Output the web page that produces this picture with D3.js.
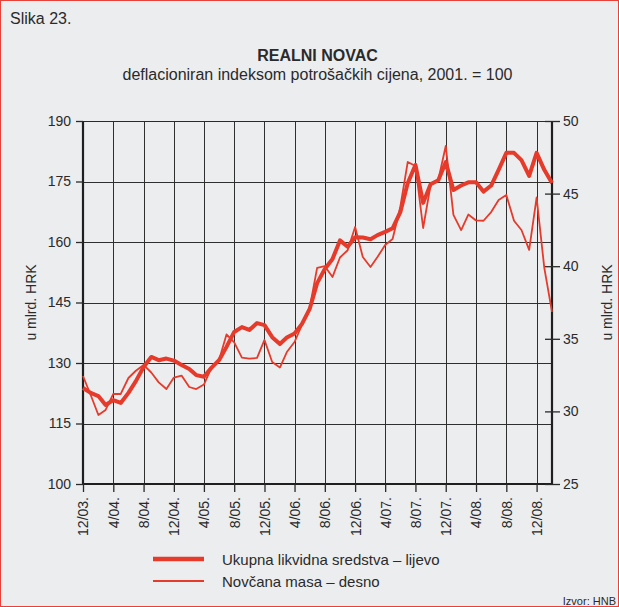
<!DOCTYPE html>
<html>
<head>
<meta charset="utf-8">
<script src="https://cdn.jsdelivr.net/npm/d3@7"></script>
<style>
  body { margin: 0; background: #ffffff; }
  svg { display: block; font-family: "Liberation Sans", Arial, sans-serif; }
</style>
</head>
<body>
<div id="chart"></div>
<script>
// Realni novac - monthly, 12/03 .. 2/09

var firstMonth = new Date(2003, 11, 1);
var lastMonth = new Date(2009, 1, 1);

// Ukupna likvidna sredstva (left axis, bn HRK)
var ukupna = [
  123.8, 122.6, 121.8, 119.6, 120.8, 120.1, 122.6, 125.5, 129.0, 131.5,
  130.7, 131.1, 130.6, 129.5, 128.5, 127.0, 126.6, 128.8, 130.7, 134.0,
  137.7, 138.9, 138.2, 139.9, 139.4, 136.4, 134.7, 136.3, 137.3, 139.7,
  143.4, 149.8, 153.3, 155.8, 160.4, 158.8, 161.2, 161.1, 160.7, 161.7,
  162.5, 163.4, 167.4, 174.6, 179.1, 169.7, 174.3, 175.3, 179.8, 172.9,
  174.0, 174.8, 174.8, 172.5, 174.0, 177.9, 182.1, 182.1, 180.3, 176.4,
  182.1, 177.9, 174.6
];

// Novcana masa (right axis, bn HRK)
var novcana = [
  32.44, 31.13, 29.75, 30.10, 31.20, 31.20, 32.30, 32.80, 33.20, 32.68,
  32.00, 31.54, 32.33, 32.47, 31.68, 31.54, 31.85, 33.00, 33.54, 35.30,
  34.75, 33.70, 33.64, 33.68, 34.92, 33.40, 33.02, 34.09, 34.78, 35.95,
  37.12, 39.88, 40.00, 39.26, 40.60, 41.10, 42.70, 40.63, 39.94, 40.63,
  41.46, 41.87, 44.08, 47.18, 46.90, 42.63, 45.59, 45.94, 48.28, 43.53,
  42.49, 43.56, 43.15, 43.13, 43.73, 44.56, 44.90, 43.13, 42.49, 41.12,
  44.73, 39.88, 36.85
];

var xTickLabels = ["12/03.", "4/04.", "8/04.", "12/04.", "4/05.", "8/05.", "12/05.", "4/06.",
  "8/06.", "12/06.", "4/07.", "8/07.", "12/07.", "4/08.", "8/08.", "12/08."];
var leftTicks = [100, 115, 130, 145, 160, 175, 190];
var rightTicks = [25, 30, 35, 40, 45, 50];

var legendLabels = ["Ukupna likvidna sredstva \u2013 lijevo", "Nov\u010dana masa \u2013 desno"];

var W = 619, H = 607;
var plot = { left: 83, right: 552, top: 121, bottom: 484 };
var red = "#e63a2a";
var ink = "#2a2a2a";

var months = d3.timeMonth.range(firstMonth, d3.timeMonth.offset(lastMonth, 1));

var svg = d3.select("#chart").append("svg")
  .attr("width", W)
  .attr("height", H);

svg.append("rect")
  .attr("x", 0.5).attr("y", 0.5)
  .attr("width", W - 1).attr("height", H - 1)
  .attr("fill", "#ecedef")
  .attr("stroke", "#e8413a")
  .attr("stroke-width", 1);

// scales
var x = d3.scaleTime()
  .domain([firstMonth, lastMonth])
  .range([plot.left, plot.right]);

var yL = d3.scaleLinear().domain([100, 190]).range([plot.bottom, plot.top]);
var yR = d3.scaleLinear().domain([25, 50]).range([plot.bottom, plot.top]);

var tickDates = xTickLabels.map(function (s) {
  var p = s.replace(".", "").split("/");
  return new Date(2000 + +p[1], +p[0] - 1, 1);
});

// grid
svg.append("g")
  .selectAll("line")
  .data(leftTicks)
  .enter().append("line")
  .attr("x1", plot.left).attr("x2", plot.right)
  .attr("y1", function (d) { return Math.round(yL(d)) + 0.5; })
  .attr("y2", function (d) { return Math.round(yL(d)) + 0.5; })
  .attr("stroke", "#2f2f2f")
  .attr("stroke-width", 1);

svg.append("g")
  .selectAll("line")
  .data(tickDates)
  .enter().append("line")
  .attr("x1", function (d) { return Math.round(x(d)) + 0.5; })
  .attr("x2", function (d) { return Math.round(x(d)) + 0.5; })
  .attr("y1", plot.top).attr("y2", plot.bottom)
  .attr("stroke", "#2f2f2f")
  .attr("stroke-width", 1);

// frame
svg.append("line")
  .attr("x1", plot.left).attr("x2", plot.right)
  .attr("y1", plot.top + 0.5).attr("y2", plot.top + 0.5)
  .attr("stroke", ink).attr("stroke-width", 1.2);
[[plot.left, plot.top, plot.left, plot.bottom],
 [plot.right, plot.top, plot.right, plot.bottom],
 [plot.left - 1, plot.bottom, plot.right + 1, plot.bottom]].forEach(function (l) {
  svg.append("line")
    .attr("x1", l[0]).attr("y1", l[1]).attr("x2", l[2]).attr("y2", l[3])
    .attr("stroke", "#1f1f1f").attr("stroke-width", 2.2);
});

// axes
var leftAxis = svg.append("g")
  .attr("transform", "translate(" + plot.left + ",0)")
  .call(d3.axisLeft(yL).tickValues(leftTicks).tickSize(7).tickPadding(5));

var rightAxis = svg.append("g")
  .attr("transform", "translate(" + (plot.right - 7) + ",0)")
  .call(d3.axisRight(yR).tickValues(rightTicks).tickSize(15).tickPadding(3));

var bottomAxis = svg.append("g")
  .attr("transform", "translate(0," + plot.bottom + ")")
  .call(d3.axisBottom(x).tickValues(tickDates).tickSize(8)
    .tickFormat(function (d, i) { return xTickLabels[i]; }));

[leftAxis, rightAxis, bottomAxis].forEach(function (a) {
  a.select(".domain").remove();
  a.selectAll("line").attr("stroke", ink).attr("stroke-width", 1.3);
  a.selectAll("text")
    .attr("fill", ink)
    .style("font-size", "14px")
    .style("font-family", "Liberation Sans, Arial, sans-serif");
});

bottomAxis.selectAll("text")
  .attr("transform", "rotate(-90)")
  .attr("text-anchor", "end")
  .attr("x", -13)
  .attr("y", 0)
  .attr("dy", "0.35em");

// axis titles
svg.append("text")
  .attr("transform", "translate(36," + ((plot.top + plot.bottom) / 2) + ") rotate(-90)")
  .attr("text-anchor", "middle")
  .attr("fill", ink)
  .style("font-size", "14px")
  .text("u mlrd. HRK");

svg.append("text")
  .attr("transform", "translate(612," + ((plot.top + plot.bottom) / 2) + ") rotate(-90)")
  .attr("text-anchor", "middle")
  .attr("fill", ink)
  .style("font-size", "14px")
  .text("u mlrd. HRK");

// lines
var lineL = d3.line()
  .x(function (d, i) { return x(months[i]); })
  .y(function (d) { return yL(d); });

var lineR = d3.line()
  .x(function (d, i) { return x(months[i]); })
  .y(function (d) { return yR(d); });

svg.append("path")
  .datum(novcana)
  .attr("d", lineR)
  .attr("fill", "none")
  .attr("stroke", red)
  .attr("stroke-width", 1.8)
  .attr("stroke-linejoin", "round");

svg.append("path")
  .datum(ukupna)
  .attr("d", lineL)
  .attr("fill", "none")
  .attr("stroke", red)
  .attr("stroke-width", 4)
  .attr("stroke-linejoin", "round");

// titles
svg.append("text")
  .attr("x", 10).attr("y", 24)
  .attr("fill", ink)
  .style("font-size", "16px")
  .text("Slika 23.");

svg.append("text")
  .attr("x", (plot.left + plot.right) / 2).attr("y", 61)
  .attr("text-anchor", "middle")
  .attr("fill", ink)
  .style("font-size", "16px")
  .style("font-weight", "bold")
  .text("REALNI NOVAC");

svg.append("text")
  .attr("x", (plot.left + plot.right) / 2).attr("y", 80)
  .attr("text-anchor", "middle")
  .attr("fill", ink)
  .style("font-size", "16px")
  .text("deflacioniran indeksom potro\u0161a\u010dkih cijena, 2001. = 100");

// legend
var legend = svg.append("g").attr("transform", "translate(153,559)");
legendLabels.forEach(function (lab, i) {
  var g = legend.append("g").attr("transform", "translate(0," + (i * 22) + ")");
  g.append("line")
    .attr("x1", 0).attr("x2", 51)
    .attr("stroke", red)
    .attr("stroke-width", i === 0 ? 4.5 : 2);
  g.append("text")
    .attr("x", 69).attr("y", 5.5)
    .attr("fill", ink)
    .style("font-size", "15px")
    .text(lab);
});

svg.append("text")
  .attr("x", 616).attr("y", 605)
  .attr("text-anchor", "end")
  .attr("fill", ink)
  .style("font-size", "11px")
  .text("Izvor: HNB");
</script>
</body>
</html>
